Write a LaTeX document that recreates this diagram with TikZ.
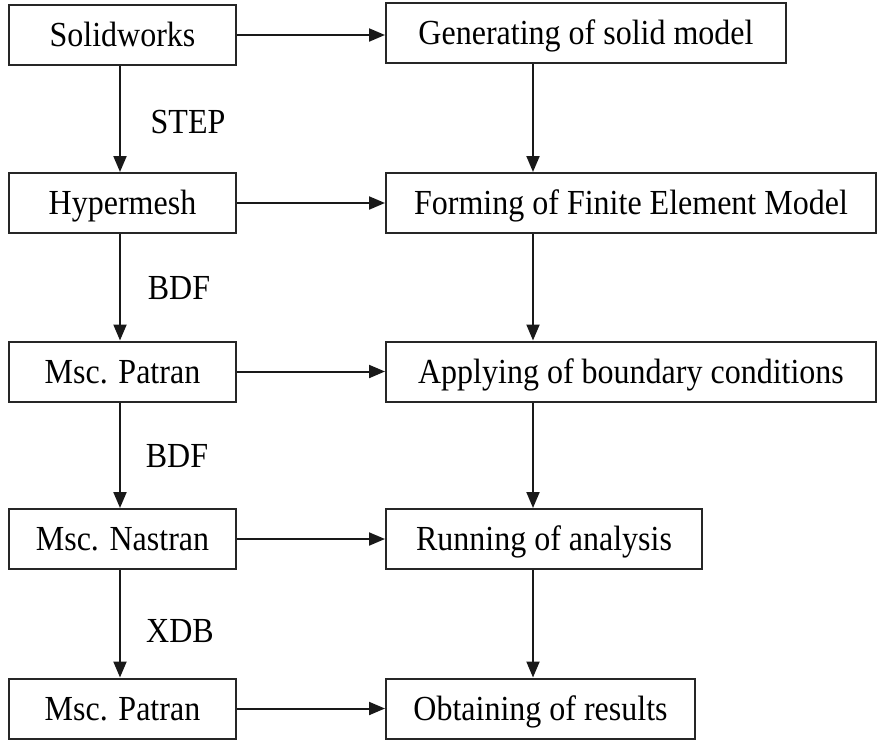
\documentclass[tikz,border=0pt]{standalone}
\usepackage{fontspec}
\usepackage{graphicx}
\setmainfont{Liberation Serif}
\usetikzlibrary{arrows.meta}
\newcommand{\tall}[1]{\scalebox{1}[1.1]{#1}}
\begin{document}
\begin{tikzpicture}[x=1pt,y=-1pt,
  box/.style={draw=black!85, line width=2pt, rectangle, inner sep=0pt, minimum height=60pt,
     font=\fontsize{32}{36}\selectfont, text=black, text height=23.3pt, text depth=0pt},
  lbl/.style={inner sep=0pt, font=\fontsize{32}{36}\selectfont, text height=23.3pt, text depth=0pt},
  arr/.style={draw=black!90, line width=2pt, -{Triangle[length=16pt,width=13pt]}}]
\useasboundingbox (0,0) rectangle (877,742);
% left column
\node[box, minimum width=227pt] (sw)  at (122.5,35) {\tall{Solidworks}};
\node[box, minimum width=227pt] (hm)  at (122.5,203) {\tall{Hypermesh}};
\node[box, minimum width=227pt] (pa1) at (122.5,371.5) {\tall{Msc. Patran}};
\node[box, minimum width=227pt] (na)  at (122.5,539) {\tall{Msc. Nastran}};
\node[box, minimum width=227pt] (pa2) at (122.5,708.5) {\tall{Msc. Patran}};
% right column
\node[box, minimum width=400pt] (gen) at (586,33) {\tall{Generating of solid model}};
\node[box, minimum width=490pt] (fem) at (631,203) {\tall{Forming of Finite Element Model}};
\node[box, minimum width=490pt] (bc)  at (631,371.5) {\tall{Applying of boundary conditions}};
\node[box, minimum width=316pt] (run) at (544,539) {\tall{Running of analysis}};
\node[box, minimum width=309pt] (res) at (540.5,708.5) {\tall{Obtaining of results}};
\coordinate (lc) at (120,0);
\coordinate (rc) at (533,0);
% labels
\node[lbl] (l1) at (188,122) {\tall{STEP}};
\node[lbl] (l2) at (179,288) {\tall{BDF}};
\node[lbl] (l3) at (177,456) {\tall{BDF}};
\node[lbl] (l4) at (180,631) {\tall{XDB}};
% horizontal arrows
\draw[arr] (sw.east) -- (sw.east -| gen.west);
\draw[arr] (hm.east) -- (fem.west);
\draw[arr] (pa1.east) -- (bc.west);
\draw[arr] (na.east) -- (run.west);
\draw[arr] (pa2.east) -- (res.west);
% vertical arrows left
\draw[arr] (sw.south -| lc) -- (hm.north -| lc);
\draw[arr] (hm.south -| lc) -- (pa1.north -| lc);
\draw[arr] (pa1.south -| lc) -- (na.north -| lc);
\draw[arr] (na.south -| lc) -- (pa2.north -| lc);
% vertical arrows right
\draw[arr] (gen.south -| rc) -- (fem.north -| rc);
\draw[arr] (fem.south -| rc) -- (bc.north -| rc);
\draw[arr] (bc.south -| rc) -- (run.north -| rc);
\draw[arr] (run.south -| rc) -- (res.north -| rc);
\end{tikzpicture}
\end{document}
